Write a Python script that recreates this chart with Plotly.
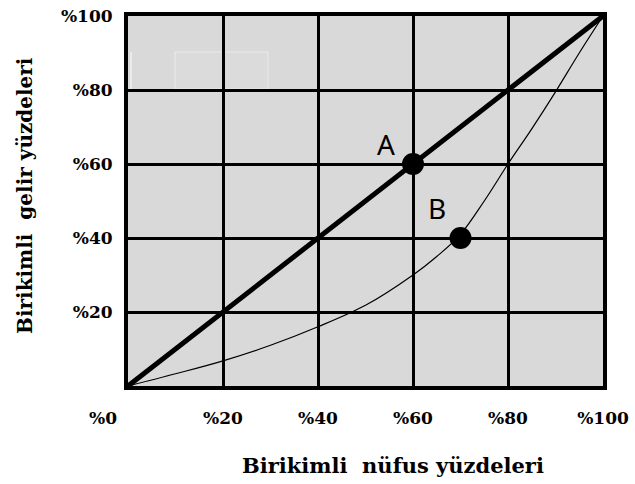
import plotly.graph_objects as go

# Data
equality_x = [0, 100]
equality_y = [0, 100]
lorenz_x = [0, 10, 20, 30, 40, 50, 60, 65, 70, 75, 80, 85, 90, 95, 100]
lorenz_y = [0, 3.3, 6.8, 11, 16, 21.8, 30, 35, 41, 50, 60, 69.5, 79.5, 90, 100]
point_labels = ["A", "B"]
point_x = [60, 70]
point_y = [60, 40]
tick_vals = [0, 20, 40, 60, 80, 100]
tick_text = ["%0", "%20", "%40", "%60", "%80", "%100"]

x_title = "Birikimli  nüfus yüzdeleri"
y_title = "Birikimli  gelir yüzdeleri"

SERIF = "DejaVu Serif"
SANS = "Noto Sans"

fig = go.Figure()
fig.add_trace(go.Scatter(x=lorenz_x, y=lorenz_y, mode="lines",
                         line=dict(color="black", width=1.2, shape="spline", smoothing=1.0),
                         hoverinfo="skip", showlegend=False, cliponaxis=False))
fig.add_trace(go.Scatter(x=equality_x, y=equality_y, mode="lines",
                         line=dict(color="black", width=5),
                         hoverinfo="skip", showlegend=False, cliponaxis=False))
fig.add_trace(go.Scatter(x=point_x, y=point_y, mode="markers",
                         marker=dict(color="black", size=22),
                         showlegend=False, cliponaxis=False))

# faint artifact rectangle from source image
fig.add_shape(type="rect", xref="paper", yref="paper",
              x0=(175 - 128) / 475, x1=(268 - 128) / 475,
              y0=(386 - 89) / 370, y1=(386 - 52) / 370,
              line=dict(color="rgba(255,255,255,0.45)", width=1),
              fillcolor="rgba(255,255,255,0.06)", layer="below")
fig.add_shape(type="line", xref="paper", yref="paper",
              x0=(131 - 128) / 475, x1=(131 - 128) / 475,
              y0=(386 - 89) / 370, y1=(386 - 52) / 370,
              line=dict(color="rgba(255,255,255,0.6)", width=1.5), layer="below")

# point labels
fig.add_annotation(x=54.3, y=65.4, xref="x", yref="y", text=point_labels[0],
                   xanchor="center", yanchor="middle",
                   showarrow=False, font=dict(family=SANS, size=28, color="black"))
fig.add_annotation(x=65.0, y=48.1, xref="x", yref="y", text=point_labels[1],
                   xanchor="center", yanchor="middle",
                   showarrow=False, font=dict(family=SANS, size=28, color="black"))

# %0 label (shared origin)
fig.add_annotation(x=(103 - 128) / 475, y=(386 - 418) / 370, xref="paper", yref="paper",
                   text=tick_text[0], showarrow=False, xanchor="center", yanchor="middle",
                   font=dict(family=SERIF, size=17, color="black", weight="bold"))

# axis titles
fig.add_annotation(x=(393 - 128) / 475, y=(386 - 465) / 370, xref="paper", yref="paper",
                   text=x_title, showarrow=False, xanchor="center", yanchor="middle",
                   font=dict(family=SERIF, size=21, color="black", weight="bold"))
fig.add_annotation(x=(25 - 128) / 475, y=(386 - 196) / 370, xref="paper", yref="paper",
                   text=y_title, showarrow=False, textangle=-90,
                   xanchor="center", yanchor="middle",
                   font=dict(family=SERIF, size=20, color="black", weight="bold"))

axis_common = dict(range=[0, 100], showgrid=True, gridcolor="black", gridwidth=3,
                   zeroline=False, showline=True, linecolor="black", linewidth=4,
                   mirror=True, ticks="", fixedrange=True, automargin=False,
                   tickfont=dict(family=SERIF, size=17, color="black", weight="bold"))

fig.update_xaxes(**axis_common, tickvals=tick_vals[1:], ticktext=tick_text[1:],
                 ticklabelstandoff=14)
fig.update_yaxes(**axis_common, tickvals=tick_vals[1:], ticktext=tick_text[1:],
                 ticklabelstandoff=8)

fig.update_layout(width=635, height=484, margin=dict(l=128, r=32, t=16, b=98),
                  plot_bgcolor="#d9d9d9", paper_bgcolor="white",
                  showlegend=False)

fig.write_html("out.html", config={"displayModeBar": False},
               post_script="document.body.style.margin='0';document.body.style.overflow='hidden';")
